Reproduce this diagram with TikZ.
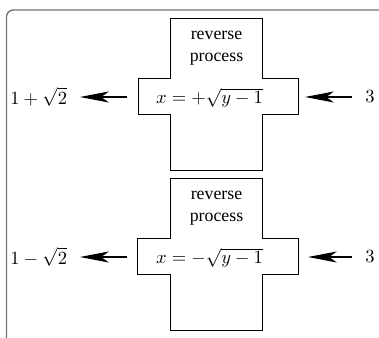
\documentclass[tikz,border=0pt]{standalone}
\usepackage[no-math]{fontspec}
\setmainfont{Liberation Serif}
\usetikzlibrary{arrows.meta}
\begin{document}
\begin{tikzpicture}[x=0.59pt,y=-0.59pt,
  frame/.style={draw=black!55,line width=0.8pt,rounded corners=4pt},
  crossline/.style={draw,line width=0.55pt},
  arr/.style={line width=0.6pt,-{Stealth[length=17pt,width=6.5pt,inset=4.5pt]}},
  lbl/.style={inner sep=0pt,font=\fontsize{11}{13}\selectfont},
  titl/.style={align=center,inner sep=0pt,font=\fontsize{10.5}{13}\selectfont}]
\useasboundingbox (0,0) rectangle (379,338);
% frame
\draw[frame] (6.5,345) -- (6.5,10) -- (385,10);
% top cross
\draw[crossline] (170.5,18.5) -- (262.5,18.5) -- (262.5,78.5) -- (298,78.5) -- (298,114.5)
  -- (262.5,114.5) -- (262.5,170) -- (170.5,170) -- (170.5,114.5) -- (138,114.5)
  -- (138,78.5) -- (170.5,78.5) -- cycle;
% bottom cross
\draw[crossline] (170.5,178.5) -- (262.5,178.5) -- (262.5,238.5) -- (298,238.5) -- (298,274.5)
  -- (262.5,274.5) -- (262.5,330.5) -- (170.5,330.5) -- (170.5,274.5) -- (137.5,274.5)
  -- (137.5,238.5) -- (170.5,238.5) -- cycle;
% texts
\node[titl] (tA) at (216.5,48) {reverse\\process};
\node[titl] (tB) at (216.5,208) {reverse\\process};
\node[lbl] (eA) at (209.5,98) {$x=+\sqrt{y-1}$};
\node[lbl] (eB) at (209.5,258) {$x=-\sqrt{y-1}$};
\node[lbl,anchor=west] (lA) at (10,97) {$1+\sqrt{2}$};
\node[lbl,anchor=west] (lB) at (10,257) {$1-\sqrt{2}$};
\node[lbl] (rA) at (370,97) {$3$};
\node[lbl] (rB) at (370,257) {$3$};
\coordinate (aA1) at (127,97);
\coordinate (aA2) at (80,97);
\coordinate (aB1) at (127,257);
\coordinate (aB2) at (80,257);
\coordinate (bA1) at (352,97);
\coordinate (bA2) at (305,97);
\coordinate (bB1) at (352,257);
\coordinate (bB2) at (308,257);
\draw[arr] (aA1) -- (aA2);
\draw[arr] (aB1) -- (aB2);
\draw[arr] (bA1) -- (bA2);
\draw[arr] (bB1) -- (bB2);
\end{tikzpicture}
\end{document}
